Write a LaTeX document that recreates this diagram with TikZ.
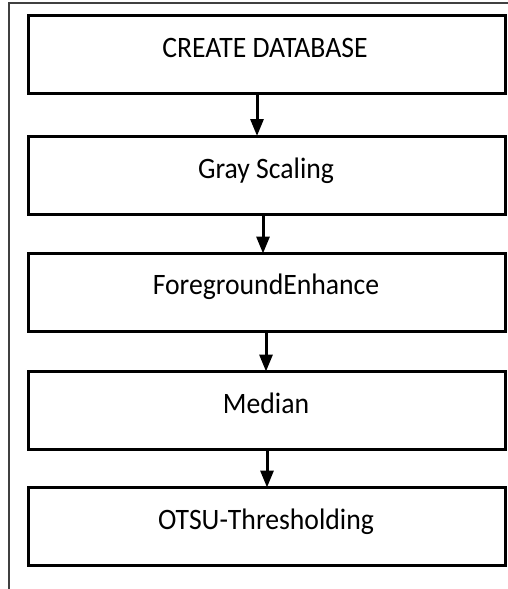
\documentclass[tikz,border=0pt]{standalone}
\usepackage{fontspec}
\setmainfont{Carlito}
\usetikzlibrary{arrows.meta}
\newcommand{\stagetext}[1]{\scalebox{1}[1.07]{#1}}
\tikzset{
  stage/.style={draw=black, line width=3pt, rectangle, inner sep=0pt, outer sep=0pt,
    minimum width=477pt, minimum height=78pt},
  caption/.style={anchor=base, inner sep=0pt, font=\fontsize{27.7}{32}\selectfont},
  flow/.style={line width=3pt, -{Triangle[length=17pt,width=13pt]}},
  frame/.style={draw=black!75, line width=1.2pt}
}
\begin{document}
\begin{tikzpicture}[x=1pt,y=-1pt]
  \useasboundingbox (0,0) rectangle (508,589);
  % open frame: top and left edges only
  \draw[frame] (508,3) -- (9,3) -- (9,589);

  % process stages
  \node[stage] (b1) at (266.5,54) {};
  \node[stage] (b2) at (266.5,175) {};
  \node[stage] (b3) at (266.5,292.5) {};
  \node[stage] (b4) at (266.5,410.5) {};
  \node[stage] (b5) at (266.5,526.5) {};

  \node[caption] (t1) at (265,57) {\stagetext{CREATE DATABASE}};
  \node[caption] (t2) at (266,178) {\stagetext{Gray Scaling}};
  \node[caption] (t3) at (266,294) {\stagetext{ForegroundEnhance}};
  \node[caption] (t4) at (266,413) {\stagetext{Median}};
  \node[caption] (t5) at (266,529) {\stagetext{OTSU-Thresholding}};

  % connectors
  \draw[flow] (b1.south -| 257,0) -- (b2.north -| 257,0);
  \draw[flow] (b2.south -| 263,0) -- (b3.north -| 263,0);
  \draw[flow] (b3.south -| 266,0) -- (b4.north -| 266,0);
  \draw[flow] (b4.south -| 267,0) -- (b5.north -| 267,0);
\end{tikzpicture}
\end{document}
